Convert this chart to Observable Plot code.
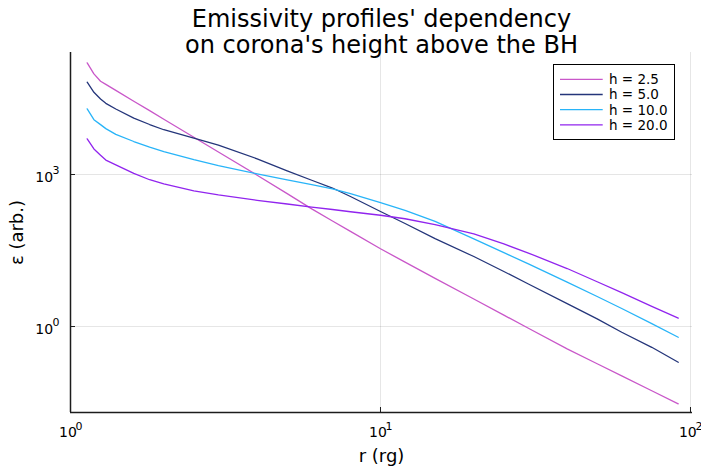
<!DOCTYPE html>
<html><head><meta charset="utf-8">
<script src="https://cdn.jsdelivr.net/npm/d3@7"></script>
<script src="https://cdn.jsdelivr.net/npm/@observablehq/plot@0.6"></script>
<style>body{margin:0;background:#fff}#chart{width:701px;height:470px}</style>
</head><body><div id="chart"></div>
<script>
const radii = [1.132, 1.19, 1.25, 1.3, 1.4, 1.6, 1.8, 2, 2.5, 3, 4, 5, 6, 7, 8, 10, 12, 15, 20, 25, 30, 40, 50, 60, 75, 91.3];
const epsH25 = [160000, 96700, 69300, 60000, 45700, 27900, 18200, 12300, 5450, 2790, 968, 420, 210, 121, 75.3, 34.2, 18.7, 8.94, 3.49, 1.68, 0.925, 0.363, 0.184, 0.106, 0.054, 0.0298];
const epsH50 = [66300, 41900, 30900, 25400, 19600, 13000, 9700, 7650, 5250, 3790, 2040, 1180, 771, 541, 368, 186, 108, 54.1, 24.1, 12.2, 6.90, 2.84, 1.42, 0.772, 0.389, 0.197];
const epsH100 = [19800, 12100, 9660, 8050, 6210, 4480, 3460, 2840, 1960, 1500, 1030, 785, 629, 520, 418, 279, 196, 119, 53.8, 28.7, 17.2, 7.55, 3.91, 2.27, 1.14, 0.615];
const epsH200 = [5060, 3200, 2410, 1930, 1550, 1050, 789, 655, 476, 395, 310, 262, 228, 204, 184, 157, 134, 103, 67.5, 42.7, 28.2, 13.95, 7.66, 4.65, 2.49, 1.46];
const seriesNames = ["h = 2.5", "h = 5.0", "h = 10.0", "h = 20.0"];
const seriesColors = ["#c957c9", "#24357a", "#28b4f8", "#9124ee"];
const xTicks = [1, 10, 100];
const xTickExponents = ["0", "1", "2"];
const yTicks = [1, 1000];
const yTickExponents = ["0", "3"];
const xDomain = [1, 101.5];
const yDomain = [0.0201, 255900];
const titleLines = ["Emissivity profiles' dependency", "on corona's height above the BH"];
const xLabel = "r (rg)";
const yLabel = "ε (arb.)";

const seriesValues = [epsH25, epsH50, epsH100, epsH200];
const rows = seriesNames.map((name, i) => radii.map((r, j) => ({series: name, r, e: seriesValues[i][j]})));

const font = "'DejaVu Sans', sans-serif";
const axisColor = "#1c1c1c";
const plot = Plot.plot({
  width: 701, height: 470,
  marginLeft: 70, marginRight: 9, marginTop: 52, marginBottom: 58,
  style: {fontFamily: font, background: "white", color: "#000", overflow: "visible"},
  x: {type: "log", domain: xDomain, axis: null},
  y: {type: "log", domain: yDomain, axis: null},
  marks: [
    Plot.gridX(xTicks, {stroke: "#000", strokeOpacity: 0.1, strokeWidth: 1}),
    Plot.gridY(yTicks, {stroke: "#000", strokeOpacity: 0.1, strokeWidth: 1}),
    ...rows.map((data, i) => Plot.line(data, {x: "r", y: "e", stroke: seriesColors[i], strokeWidth: 1.3})),
    Plot.ruleX([xDomain[0]], {stroke: axisColor, strokeWidth: 1.5}),
    Plot.ruleY([yDomain[0]], {stroke: axisColor, strokeWidth: 1.5}),
    Plot.axisX(xTicks, {anchor: "bottom", tickSize: -5, tickFormat: () => "", label: null, stroke: axisColor}),
    Plot.axisY(yTicks, {anchor: "left", tickSize: -5, tickFormat: () => "", label: null, stroke: axisColor}),
    Plot.text(xTicks, {x: d => d, frameAnchor: "bottom", lineAnchor: "bottom", textAnchor: "end", dx: 6.3, dy: 24.7, text: () => "10", fontSize: 14}),
    Plot.text(xTicks, {x: d => d, frameAnchor: "bottom", lineAnchor: "bottom", textAnchor: "start", dx: 5.0, dy: 17, text: (d, i) => xTickExponents[i], fontSize: 11}),
    Plot.text(yTicks, {y: d => d, frameAnchor: "left", lineAnchor: "bottom", textAnchor: "end", dx: -17.4, dy: 7.7, text: () => "10", fontSize: 14}),
    Plot.text(yTicks, {y: d => d, frameAnchor: "left", lineAnchor: "bottom", textAnchor: "end", dx: -11.1, dy: -0.7, text: (d, i) => yTickExponents[i], fontSize: 11}),
    Plot.text([xLabel], {frameAnchor: "bottom", lineAnchor: "bottom", textAnchor: "middle", dy: 49, text: d => d, fontSize: 18}),
    Plot.text([yLabel], {frameAnchor: "left", lineAnchor: "bottom", textAnchor: "middle", rotate: -90, dx: -48, text: d => d, fontSize: 18}),
    Plot.text([titleLines[0]], {frameAnchor: "top", lineAnchor: "bottom", textAnchor: "middle", dy: -26, text: d => d, fontSize: 24}),
    Plot.text([titleLines[1]], {frameAnchor: "top", lineAnchor: "bottom", textAnchor: "middle", dy: 0, text: d => d, fontSize: 24})
  ]
});

// legend (inside the plot, top right)
const svg = d3.select(plot);
const lg = svg.append("g").attr("font-family", font).attr("font-size", 13.5).attr("text-anchor", "start");
lg.append("rect").attr("x", 553.5).attr("y", 64.5).attr("width", 121).attr("height", 75)
  .attr("fill", "white").attr("stroke", "#000").attr("stroke-width", 1);
seriesNames.forEach((name, i) => {
  const yy = 79.3 + i * 15.2;
  lg.append("line").attr("x1", 560).attr("x2", 602.7).attr("y1", yy).attr("y2", yy)
    .attr("stroke", seriesColors[i]).attr("stroke-width", 1.3);
  lg.append("text").attr("x", 609).attr("y", yy).attr("dy", "0.36em")
    .attr("text-anchor", "start").attr("fill", "#000").text(name);
});

document.getElementById("chart").appendChild(plot);
</script>
</body></html>
